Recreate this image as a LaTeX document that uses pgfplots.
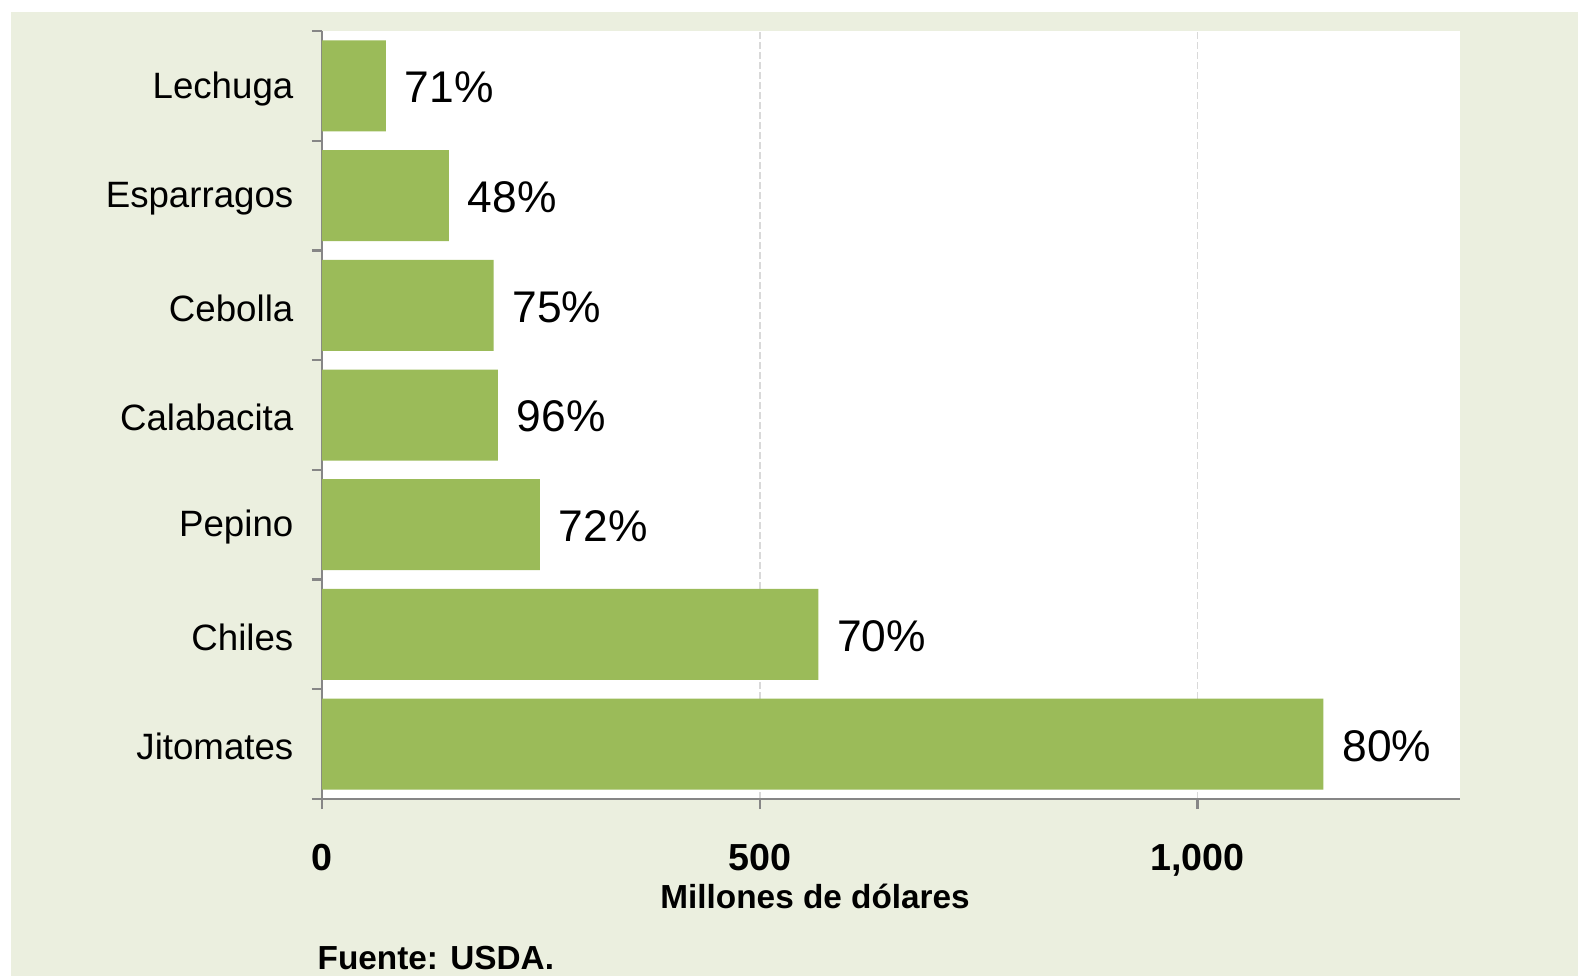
\documentclass[border=0pt]{standalone}
\usepackage{fontspec}
\setmainfont{Liberation Sans}
\usepackage{pgfplots}
\pgfplotsset{compat=1.18}
\definecolor{bgbeige}{HTML}{EBEFDF}
\definecolor{bargreen}{HTML}{9BBB59}
\definecolor{axisgray}{HTML}{868686}
\definecolor{gridgray}{HTML}{D9D9D9}

\begin{document}
\begin{tikzpicture}
\useasboundingbox (-96.6pt,-53.1pt) rectangle (376.8pt,239.7pt);
\fill[bgbeige] (-93.3pt,-53.1pt) rectangle (376.8pt,236.1pt);
\begin{axis}[
    at={(0,0)}, anchor=south west,
    scale only axis,
    width=341.4pt, height=230.4pt,
    xbar, bar width=27.3pt,
    xmin=0, xmax=1300,
    ymin=-0.5, ymax=6.5,
    axis x line*=bottom, axis y line*=left,
    axis line style={axisgray, line width=0.75pt},
    axis background/.style={fill=white},
    xtick={0,500,1000},
    ytick={0,...,6},
    yticklabels={Jitomates,Chiles,Pepino,Calabacita,Cebolla,Esparragos,Lechuga},
    minor ytick={-0.5,0.5,...,6.5},
    tick align=outside,
    major tick length=3pt, minor tick length=3pt,
    tick style={axisgray, line width=0.7pt},
    every major y tick/.append style={draw=none},
    xmajorgrids,
    major x grid style={gridgray, dash pattern=on 2pt off 1pt, line width=0.5pt},
    /pgf/number format/1000 sep={,},
    /pgf/number format/assume math mode=true,
    xticklabel style={font=\bfseries\fontsize{11.3}{13}\selectfont, yshift=-7pt},
    yticklabel style={font=\fontsize{11}{13}\selectfont, inner sep=0pt, anchor=east, xshift=-5.4pt, yshift=-0.8pt},
    xlabel={Millones de dólares},
    xlabel style={font=\bfseries\fontsize{10}{12}\selectfont, at={(axis description cs:0.4333,0)}, anchor=base, yshift=-32.7pt},
    nodes near coords,
    point meta=explicit symbolic,
    nodes near coords style={font=\fontsize{13.3}{15}\selectfont, anchor=west, inner sep=0pt, xshift=5.5pt, yshift=-0.5pt},
]
% Millones de dolares; etiqueta = participacion de Mexico
\addplot[fill=bargreen, draw=none] coordinates {
    (1144,0) [80\%]
    (567,1)  [70\%]
    (249,2)  [72\%]
    (201,3)  [96\%]
    (196,4)  [75\%]
    (145,5)  [48\%]
    (73,6)   [71\%]
};
\end{axis}
\node[anchor=base west, inner sep=0pt, font=\bfseries\fontsize{10}{12}\selectfont] at (-1.5pt,-51pt) {Fuente: USDA.};
\end{tikzpicture}
\end{document}
